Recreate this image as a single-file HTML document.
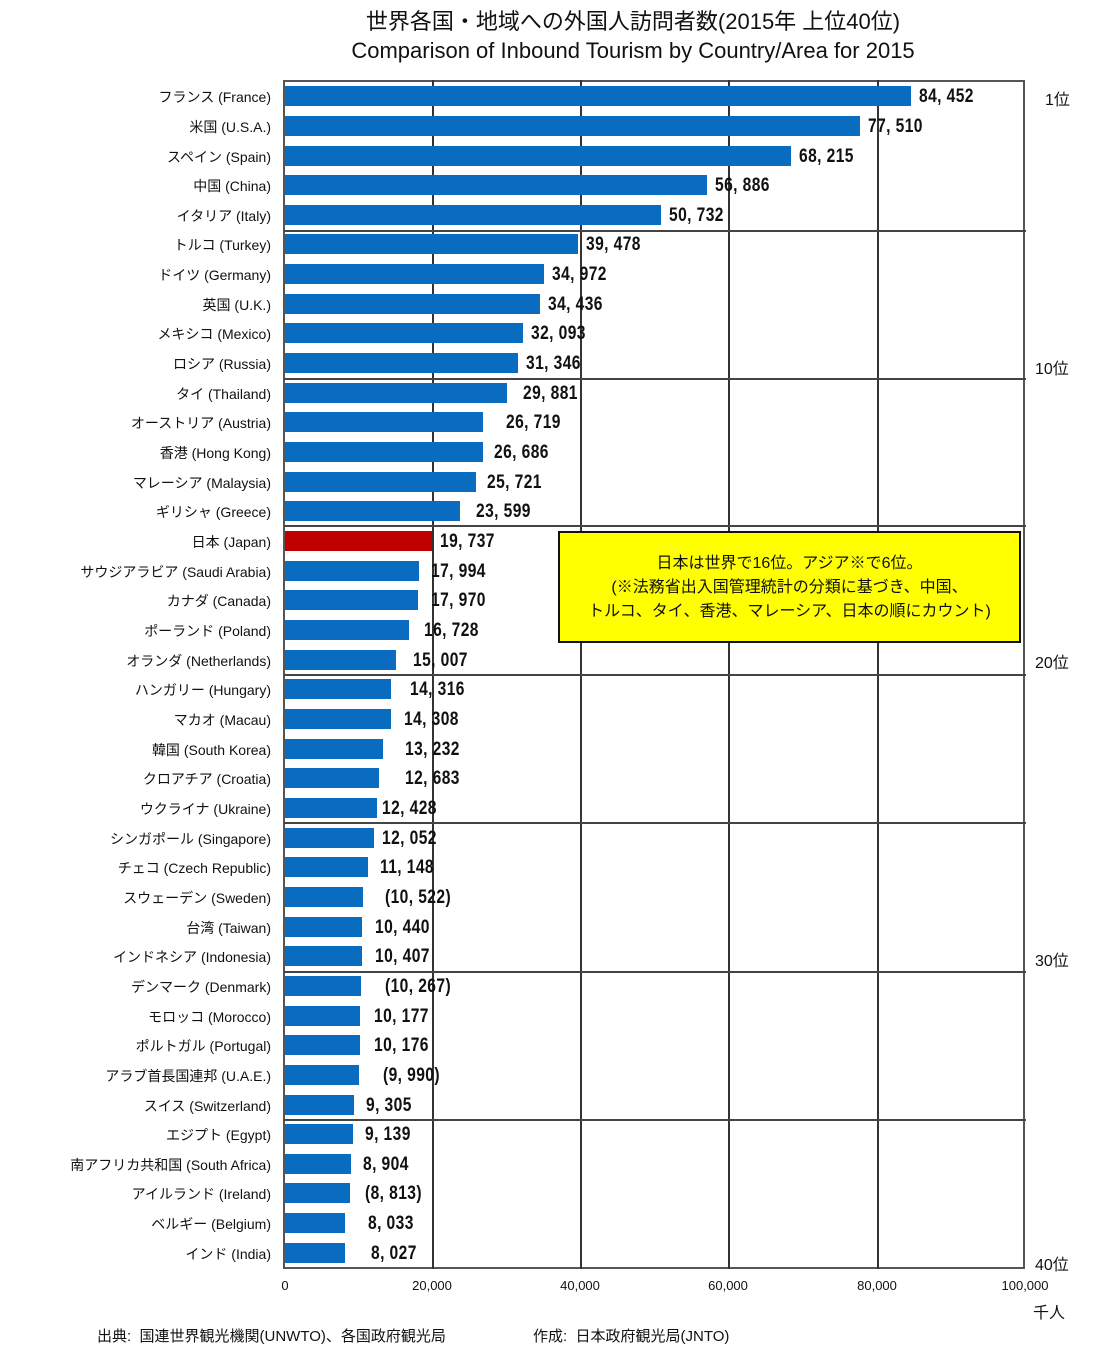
<!DOCTYPE html>
<html><head><meta charset="utf-8">
<style>
body{margin:0;width:1108px;height:1344px;background:#fff;position:relative;overflow:hidden;font-family:"Liberation Sans","Noto Sans CJK JP",sans-serif;color:#111}
.a{position:absolute}
.t1{top:4px;left:0;width:1266px;text-align:center;font-size:22px;white-space:nowrap}
.t2{top:38px;left:0;width:1266px;text-align:center;font-size:22px;white-space:nowrap}
.frame{left:283px;top:80px;width:742px;height:1189px;border:2px solid #555;box-sizing:border-box}
.vg{top:80px;width:1.5px;height:1189px;background:#333}
.hg{left:284px;width:742px;height:1.5px;background:#444}
.rows{left:0;top:81.2px;width:1108px;display:grid;grid-template-rows:repeat(40,29.67px)}
.r{position:relative}
.l{position:absolute;right:837px;top:6px;font-size:14px;white-space:nowrap}
.b{position:absolute;left:285px;top:5px;height:20px;background:#0a6cc0}
.v{position:absolute;top:5px;font-size:19px;font-weight:bold;white-space:nowrap;transform:scaleX(0.82);transform-origin:left center;letter-spacing:0.5px}
.rk{font-size:16px;left:1035px}
.tick{top:1278px;font-size:13px;transform:translateX(-50%)}
.note{left:558px;top:531px;width:463px;height:112px;background:#ffff00;border:2px solid #111;box-sizing:border-box;font-size:16px;text-align:center;line-height:24px;padding-top:19px}
.foot{top:1325px;font-size:15px;white-space:nowrap}
</style></head><body>
<div class="a t1">世界各国・地域への外国人訪問者数(2015年 上位40位)</div>
<div class="a t2">Comparison of Inbound Tourism by Country/Area for 2015</div>
<div class="a frame"></div>
<div class="a vg" style="left:432px"></div>
<div class="a vg" style="left:580px"></div>
<div class="a vg" style="left:728px"></div>
<div class="a vg" style="left:877px"></div>
<div class="a hg" style="top:230px"></div>
<div class="a hg" style="top:378px"></div>
<div class="a hg" style="top:525px"></div>
<div class="a hg" style="top:674px"></div>
<div class="a hg" style="top:822px"></div>
<div class="a hg" style="top:971px"></div>
<div class="a hg" style="top:1119px"></div>
<div class="a rows">
<div class="r"><span class="l">フランス (France)</span><div class="b" style="width:626px"></div><span class="v" style="left:919px">84, 452</span></div>
<div class="r"><span class="l">米国 (U.S.A.)</span><div class="b" style="width:575px"></div><span class="v" style="left:868px">77, 510</span></div>
<div class="r"><span class="l">スペイン (Spain)</span><div class="b" style="width:506px"></div><span class="v" style="left:799px">68, 215</span></div>
<div class="r"><span class="l">中国 (China)</span><div class="b" style="width:422px"></div><span class="v" style="left:715px">56, 886</span></div>
<div class="r"><span class="l">イタリア (Italy)</span><div class="b" style="width:376px"></div><span class="v" style="left:669px">50, 732</span></div>
<div class="r"><span class="l">トルコ (Turkey)</span><div class="b" style="width:293px"></div><span class="v" style="left:586px">39, 478</span></div>
<div class="r"><span class="l">ドイツ (Germany)</span><div class="b" style="width:259px"></div><span class="v" style="left:552px">34, 972</span></div>
<div class="r"><span class="l">英国 (U.K.)</span><div class="b" style="width:255px"></div><span class="v" style="left:548px">34, 436</span></div>
<div class="r"><span class="l">メキシコ (Mexico)</span><div class="b" style="width:238px"></div><span class="v" style="left:531px">32, 093</span></div>
<div class="r"><span class="l">ロシア (Russia)</span><div class="b" style="width:233px"></div><span class="v" style="left:526px">31, 346</span></div>
<div class="r"><span class="l">タイ (Thailand)</span><div class="b" style="width:222px"></div><span class="v" style="left:523px">29, 881</span></div>
<div class="r"><span class="l">オーストリア (Austria)</span><div class="b" style="width:198px"></div><span class="v" style="left:506px">26, 719</span></div>
<div class="r"><span class="l">香港 (Hong Kong)</span><div class="b" style="width:198px"></div><span class="v" style="left:494px">26, 686</span></div>
<div class="r"><span class="l">マレーシア (Malaysia)</span><div class="b" style="width:191px"></div><span class="v" style="left:487px">25, 721</span></div>
<div class="r"><span class="l">ギリシャ (Greece)</span><div class="b" style="width:175px"></div><span class="v" style="left:476px">23, 599</span></div>
<div class="r"><span class="l">日本 (Japan)</span><div class="b" style="width:147px;background:#c00000"></div><span class="v" style="left:440px">19, 737</span></div>
<div class="r"><span class="l">サウジアラビア (Saudi Arabia)</span><div class="b" style="width:134px"></div><span class="v" style="left:431px">17, 994</span></div>
<div class="r"><span class="l">カナダ (Canada)</span><div class="b" style="width:133px"></div><span class="v" style="left:431px">17, 970</span></div>
<div class="r"><span class="l">ポーランド (Poland)</span><div class="b" style="width:124px"></div><span class="v" style="left:424px">16, 728</span></div>
<div class="r"><span class="l">オランダ (Netherlands)</span><div class="b" style="width:111px"></div><span class="v" style="left:413px">15, 007</span></div>
<div class="r"><span class="l">ハンガリー (Hungary)</span><div class="b" style="width:106px"></div><span class="v" style="left:410px">14, 316</span></div>
<div class="r"><span class="l">マカオ (Macau)</span><div class="b" style="width:106px"></div><span class="v" style="left:404px">14, 308</span></div>
<div class="r"><span class="l">韓国 (South Korea)</span><div class="b" style="width:98px"></div><span class="v" style="left:405px">13, 232</span></div>
<div class="r"><span class="l">クロアチア (Croatia)</span><div class="b" style="width:94px"></div><span class="v" style="left:405px">12, 683</span></div>
<div class="r"><span class="l">ウクライナ (Ukraine)</span><div class="b" style="width:92px"></div><span class="v" style="left:382px">12, 428</span></div>
<div class="r"><span class="l">シンガポール (Singapore)</span><div class="b" style="width:89px"></div><span class="v" style="left:382px">12, 052</span></div>
<div class="r"><span class="l">チェコ (Czech Republic)</span><div class="b" style="width:83px"></div><span class="v" style="left:380px">11, 148</span></div>
<div class="r"><span class="l">スウェーデン (Sweden)</span><div class="b" style="width:78px"></div><span class="v" style="left:385px">(10, 522)</span></div>
<div class="r"><span class="l">台湾 (Taiwan)</span><div class="b" style="width:77px"></div><span class="v" style="left:375px">10, 440</span></div>
<div class="r"><span class="l">インドネシア (Indonesia)</span><div class="b" style="width:77px"></div><span class="v" style="left:375px">10, 407</span></div>
<div class="r"><span class="l">デンマーク (Denmark)</span><div class="b" style="width:76px"></div><span class="v" style="left:385px">(10, 267)</span></div>
<div class="r"><span class="l">モロッコ (Morocco)</span><div class="b" style="width:75px"></div><span class="v" style="left:374px">10, 177</span></div>
<div class="r"><span class="l">ポルトガル (Portugal)</span><div class="b" style="width:75px"></div><span class="v" style="left:374px">10, 176</span></div>
<div class="r"><span class="l">アラブ首長国連邦 (U.A.E.)</span><div class="b" style="width:74px"></div><span class="v" style="left:383px">(9, 990)</span></div>
<div class="r"><span class="l">スイス (Switzerland)</span><div class="b" style="width:69px"></div><span class="v" style="left:366px">9, 305</span></div>
<div class="r"><span class="l">エジプト (Egypt)</span><div class="b" style="width:68px"></div><span class="v" style="left:365px">9, 139</span></div>
<div class="r"><span class="l">南アフリカ共和国 (South Africa)</span><div class="b" style="width:66px"></div><span class="v" style="left:363px">8, 904</span></div>
<div class="r"><span class="l">アイルランド (Ireland)</span><div class="b" style="width:65px"></div><span class="v" style="left:365px">(8, 813)</span></div>
<div class="r"><span class="l">ベルギー (Belgium)</span><div class="b" style="width:60px"></div><span class="v" style="left:368px">8, 033</span></div>
<div class="r"><span class="l">インド (India)</span><div class="b" style="width:60px"></div><span class="v" style="left:371px">8, 027</span></div>
</div>
<div class="a rk" style="top:86px;left:1045px">1位</div>
<div class="a rk" style="top:355px">10位</div>
<div class="a rk" style="top:649px">20位</div>
<div class="a rk" style="top:947px">30位</div>
<div class="a rk" style="top:1251px">40位</div>
<div class="a note">日本は世界で16位。アジア※で6位。<br>(※法務省出入国管理統計の分類に基づき、中国、<br>トルコ、タイ、香港、マレーシア、日本の順にカウント)</div>
<div class="a tick" style="left:285px">0</div>
<div class="a tick" style="left:432px">20,000</div>
<div class="a tick" style="left:580px">40,000</div>
<div class="a tick" style="left:728px">60,000</div>
<div class="a tick" style="left:877px">80,000</div>
<div class="a tick" style="left:1025px">100,000</div>
<div class="a" style="top:1299px;left:1033px;font-size:16px">千人</div>
<div class="a foot" style="left:97px">出典:&nbsp; 国連世界観光機関(UNWTO)、各国政府観光局</div>
<div class="a foot" style="left:533px">作成:&nbsp; 日本政府観光局(JNTO)</div>
</body></html>
